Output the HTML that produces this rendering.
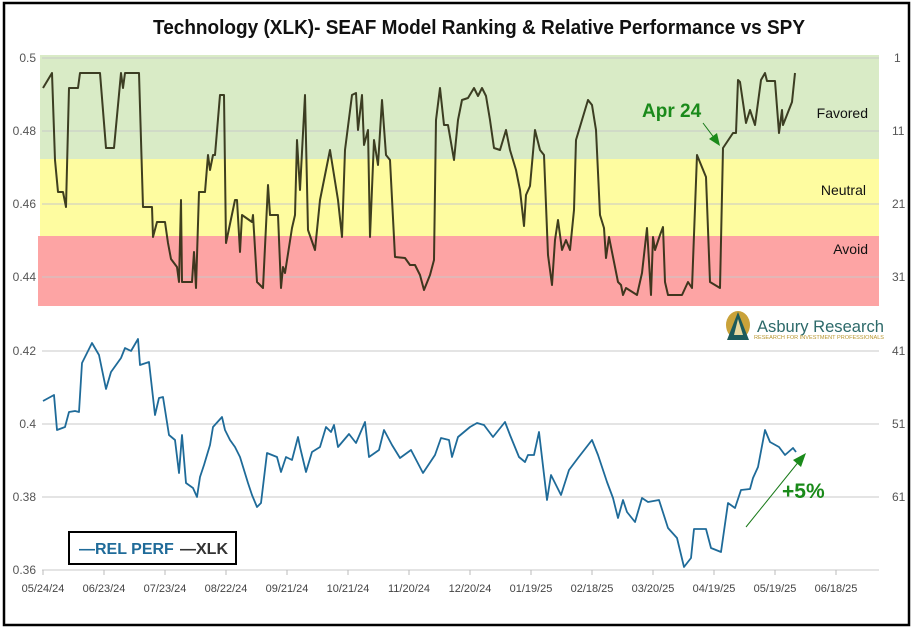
<!DOCTYPE html>
<html><head><meta charset="utf-8"><style>
html,body{margin:0;padding:0;background:#fff;}
svg{display:block;font-family:"Liberation Sans",sans-serif;}
</style></head><body>
<svg width="914" height="632" viewBox="0 0 914 632" xmlns="http://www.w3.org/2000/svg">
<rect x="0" y="0" width="914" height="632" fill="#fff"/>
<rect x="4" y="3" width="905" height="622" fill="none" stroke="#000" stroke-width="2.5"/>
<text x="153" y="34" font-size="20" font-weight="bold" fill="#111" textLength="652" lengthAdjust="spacingAndGlyphs">Technology (XLK)- SEAF Model Ranking &amp; Relative Performance vs SPY</text>
<!-- bands -->
<rect x="40" y="55" width="839" height="104" fill="#d9ebc6"/>
<rect x="40" y="159" width="839" height="77" fill="#fefca0"/>
<rect x="38" y="236" width="841" height="70" fill="#fda4a4"/>
<!-- gridlines -->
<g stroke="#c8c8c8" stroke-width="1">
<line x1="42" x2="879" y1="58" y2="58"/><line x1="42" x2="879" y1="131" y2="131"/>
<line x1="42" x2="879" y1="204" y2="204"/><line x1="42" x2="879" y1="277" y2="277"/>
<line x1="42" x2="879" y1="351" y2="351"/><line x1="42" x2="879" y1="424" y2="424"/>
<line x1="42" x2="879" y1="497" y2="497"/><line x1="42" x2="879" y1="570" y2="570"/>
</g>
<g font-size="12" fill="#555">
<text x="36" y="62" text-anchor="end">0.5</text><text x="36" y="135" text-anchor="end">0.48</text>
<text x="36" y="208" text-anchor="end">0.46</text><text x="36" y="281" text-anchor="end">0.44</text>
<text x="36" y="355" text-anchor="end">0.42</text><text x="36" y="428" text-anchor="end">0.4</text>
<text x="36" y="501" text-anchor="end">0.38</text><text x="36" y="574" text-anchor="end">0.36</text>
<text x="894" y="62">1</text><text x="892" y="135">11</text><text x="892" y="208">21</text>
<text x="892" y="281">31</text><text x="892" y="355">41</text><text x="892" y="428">51</text><text x="892" y="501">61</text>
</g>
<g stroke="#bbb">
<line x1="43" x2="43" y1="570" y2="575"/><line x1="104" x2="104" y1="570" y2="575"/><line x1="165" x2="165" y1="570" y2="575"/>
<line x1="226" x2="226" y1="570" y2="575"/><line x1="287" x2="287" y1="570" y2="575"/><line x1="348" x2="348" y1="570" y2="575"/>
<line x1="409" x2="409" y1="570" y2="575"/><line x1="470" x2="470" y1="570" y2="575"/><line x1="531" x2="531" y1="570" y2="575"/>
<line x1="592" x2="592" y1="570" y2="575"/><line x1="653" x2="653" y1="570" y2="575"/><line x1="714" x2="714" y1="570" y2="575"/>
<line x1="775" x2="775" y1="570" y2="575"/><line x1="836" x2="836" y1="570" y2="575"/>
</g>
<g font-size="11" fill="#444" text-anchor="middle">
<text x="43" y="592">05/24/24</text><text x="104" y="592">06/23/24</text><text x="165" y="592">07/23/24</text>
<text x="226" y="592">08/22/24</text><text x="287" y="592">09/21/24</text><text x="348" y="592">10/21/24</text>
<text x="409" y="592">11/20/24</text><text x="470" y="592">12/20/24</text><text x="531" y="592">01/19/25</text>
<text x="592" y="592">02/18/25</text><text x="653" y="592">03/20/25</text><text x="714" y="592">04/19/25</text>
<text x="775" y="592">05/19/25</text><text x="836" y="592">06/18/25</text>
</g>
<!-- band labels -->
<g font-size="14" fill="#111" text-anchor="end">
<text x="868" y="118">Favored</text><text x="866" y="195">Neutral</text><text x="868" y="254">Avoid</text>
</g>
<!-- XLK line -->
<polyline fill="none" stroke="#2a2a10" stroke-width="2" stroke-linejoin="round" opacity="0.9" points="43,88 52,73 55,160 58,192 63,192 66,207 69,88 78,88 80,73 100,73 106,148 114,148 121,73 123,88 125,73 139,73 143,207 152,207 153,237 157,222 165,222 168,243 171,259 177,267 179,282 181,200 182,282 192,282 194,252 196,288 199,192 205,192 208,155 210,170 213,155 215,155 220,95 224,95 226,243 235,200 237,200 240,252 242,215 252,222 253,215 257,282 263,288 268,185 270,215 278,215 281,288 283,267 285,273 292,228 295,215 297,140 300,190 305,95 308,230 315,250 320,200 330,150 338,200 342,237 345,150 352,95 356,93 358,130 362,95 364,145 368,130 370,237 374,140 378,165 382,100 386,155 390,160 395,257 405,258 410,265 415,265 420,275 424,290 430,275 434,260 436,120 440,88 444,125 448,125 454,160 458,120 462,100 468,98 474,88 478,96 482,88 486,96 490,120 494,148 500,150 506,130 510,150 516,170 520,190 524,226 526,195 530,186 535,130 540,150 544,155 548,255 552,285 555,240 558,220 562,250 566,240 570,250 574,210 576,140 582,120 588,100 592,105 596,130 600,215 604,228 606,258 609,237 618,282 621,285 623,295 626,288 637,295 642,273 647,228 651,295 653,237 655,250 660,235 663,227 665,282 668,295 682,295 688,282 692,288 697,155 706,177 710,282 720,288 723,148 733,133 736,133 738,80 740,82 746,123 750,110 755,125 761,80 765,73 767,81 775,81 779,133 782,110 783,125 792,102 795,73"/>
<!-- REL PERF -->
<polyline fill="none" stroke="#1f6b99" stroke-width="1.8" stroke-linejoin="round" points="43,401 54,395 57,430 65,427 69,412 75,411 79,412 82,363 92,343 99,355 106,389 111,372 121,358 125,348 131,351 138,339 140,365 149,362 155,415 159,398 163,397 169,435 175,440 179,473 182,435 186,483 193,488 197,497 200,477 204,465 210,445 213,427 222,417 225,430 230,440 235,447 240,457 248,483 252,495 257,507 261,503 267,453 277,457 281,472 286,457 292,460 298,437 300,447 306,472 312,452 320,447 326,427 331,432 334,425 338,447 349,434 356,443 365,422 369,457 379,450 384,430 392,445 400,458 411,450 423,473 435,455 441,438 449,440 452,457 458,437 470,427 477,423 484,425 493,437 505,422 510,435 519,457 525,462 528,455 534,455 539,432 547,500 551,475 561,495 569,470 578,458 592,440 598,455 607,482 613,498 618,518 623,500 627,512 635,522 642,498 648,502 659,500 668,528 677,538 684,567 691,558 694,529 706,529 711,548 721,552 728,503 735,508 741,490 750,489 753,478 758,467 765,430 770,442 779,447 785,455 793,448 796,452"/>
<!-- annotations -->
<text x="642" y="117" font-size="19" font-weight="bold" fill="#1a8a1a">Apr 24</text>
<line x1="703" y1="123" x2="715" y2="139" stroke="#1a7a1a" stroke-width="1"/>
<polygon points="720,146 709,139 717,133" fill="#1a8a1a"/>
<line x1="746" y1="527" x2="800" y2="460" stroke="#1a7a1a" stroke-width="1"/>
<polygon points="806,453 793,460 801,467" fill="#1a8a1a"/>
<text x="782" y="498" font-size="21" font-weight="bold" fill="#1a8a1a">+5%</text>
<!-- legend -->
<rect x="69" y="532" width="167" height="32" fill="#fff" stroke="#000" stroke-width="2"/>
<text x="79" y="554" font-size="16" font-weight="bold" fill="#1f6b99">—REL PERF</text>
<text x="180" y="554" font-size="16" font-weight="bold" fill="#333">—XLK</text>
<!-- logo -->
<g>
<ellipse cx="738" cy="325" rx="12" ry="14" fill="#c9a23a"/>
<polygon points="738,312 727,340 749,340" fill="#1d5b5b"/>
<polygon points="738,319 734,335 743,335" fill="#e8d9a0"/>
<text x="757" y="332" font-size="17" fill="#2d6a6a" textLength="127" lengthAdjust="spacingAndGlyphs">Asbury Research</text>
<text x="754" y="339" font-size="5" fill="#b8962e" textLength="130" lengthAdjust="spacingAndGlyphs">RESEARCH FOR INVESTMENT PROFESSIONALS</text>
</g>
</svg>
</body></html>
